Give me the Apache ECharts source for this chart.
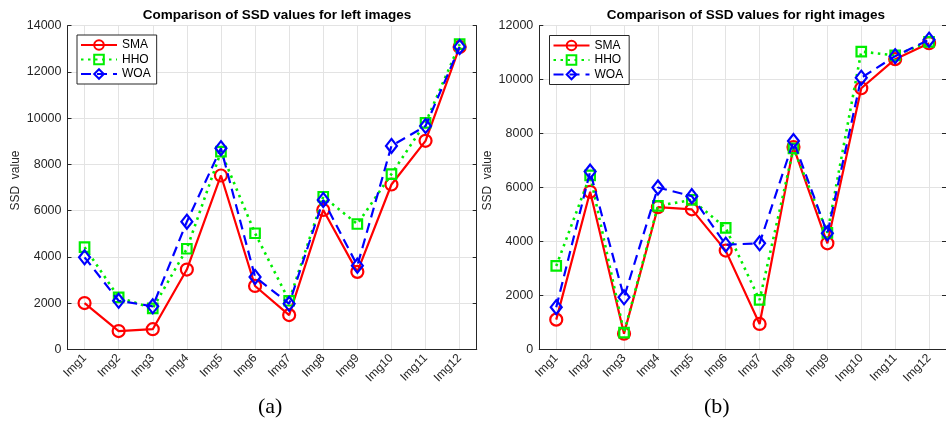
<!DOCTYPE html>
<html>
<head>
<meta charset="utf-8">
<script src="https://cdn.jsdelivr.net/npm/echarts@6/dist/echarts.min.js"></script>
<style>
html,body{margin:0;padding:0;background:#fff;}
#c{width:946px;height:424px;}
</style>
</head>
<body>
<div id="c"></div>
<script>
const categories = ['Img1','Img2','Img3','Img4','Img5','Img6','Img7','Img8','Img9','Img10','Img11','Img12'];
const seriesNames = ['SMA','HHO','WOA'];
const leftSMA = [2000, 790, 870, 3450, 7520, 2740, 1480, 6030, 3350, 7130, 9020, 13080];
const leftHHO = [4420, 2250, 1770, 4350, 8550, 5020, 2100, 6600, 5420, 7580, 9800, 13200];
const leftWOA = [3980, 2100, 1860, 5520, 8700, 3130, 1970, 6460, 3620, 8800, 9660, 13080];
const rightSMA = [1100, 5840, 580, 5270, 5190, 3660, 940, 7500, 3930, 9680, 10760, 11350];
const rightHHO = [3090, 6450, 620, 5320, 5540, 4500, 1830, 7450, 4320, 11040, 10900, 11400];
const rightWOA = [1560, 6590, 1930, 6000, 5680, 3880, 3930, 7720, 4300, 10070, 10870, 11480];
const titles = ['Comparison of SSD values for left images', 'Comparison of SSD values for right images'];
const yName = 'SSD  value';
const captions = ['(a)', '(b)'];
const yMax = [14000, 12000];
const yInterval = 2000;

const FONT = 'Liberation Sans, Arial, sans-serif';
const gridColor = '#e3e3e3';
const axisColor = '#262626';

const grids = [
  {left: 67.5, top: 25.7, width: 409.2, height: 323.6},
  {left: 539.3, top: 25.7, width: 409.2, height: 323.6}
];

const styles = {
  SMA: {color: '#ff0000', type: 'solid', width: 2.2, symbol: 'circle', size: 12},
  HHO: {color: '#00ee00', type: [2.5, 4.5], width: 2.6, symbol: 'rect', size: 9.5},
  WOA: {color: '#0000ff', type: [10, 6], width: 2.2, symbol: 'diamond', size: [11, 14]}
};

const xAxes = [], yAxes = [], series = [], titleArr = [], legends = [];
[0, 1].forEach(i => {
  xAxes.push({
    type: 'category', gridIndex: i, data: categories, boundaryGap: true,
    axisLine: {lineStyle: {color: axisColor, width: 1}},
    axisTick: {inside: true, length: 4, alignWithLabel: true, lineStyle: {color: axisColor}},
    axisLabel: {rotate: 45, fontFamily: FONT, fontSize: 12, color: axisColor, margin: 7},
    splitLine: {show: true, alignWithLabel: true, lineStyle: {color: gridColor, width: 1}}
  });
  xAxes.push({
    type: 'category', gridIndex: i, data: categories, boundaryGap: true, position: 'top',
    axisLine: {lineStyle: {color: axisColor, width: 1}},
    axisTick: {inside: true, length: 4, alignWithLabel: true, lineStyle: {color: axisColor}},
    axisLabel: {show: false}, splitLine: {show: false}
  });
  yAxes.push({
    type: 'value', gridIndex: i, min: 0, max: yMax[i], interval: yInterval,
    name: yName, nameLocation: 'middle', nameGap: 46, nameRotate: 90,
    nameTextStyle: {fontFamily: FONT, fontSize: 12, color: axisColor, padding: [0, 0, 0, 14]},
    axisLine: {show: true, lineStyle: {color: axisColor, width: 1}},
    axisTick: {show: true, inside: true, length: 4, lineStyle: {color: axisColor}},
    axisLabel: {fontFamily: FONT, fontSize: 12.5, color: axisColor, margin: 6, formatter: v => String(v)},
    splitLine: {show: true, lineStyle: {color: gridColor, width: 1}}
  });
  yAxes.push({
    type: 'value', gridIndex: i, min: 0, max: yMax[i], interval: yInterval, position: 'right',
    axisLine: {show: true, lineStyle: {color: axisColor, width: 1}},
    axisTick: {show: true, inside: true, length: 4, lineStyle: {color: axisColor}},
    axisLabel: {show: false}, splitLine: {show: false}
  });
  const data = i === 0 ? [leftSMA, leftHHO, leftWOA] : [rightSMA, rightHHO, rightWOA];
  seriesNames.forEach((n, k) => {
    const s = styles[n];
    series.push({
      name: n, type: 'line', xAxisIndex: i * 2, yAxisIndex: i * 2, data: data[k],
      symbol: s.symbol, symbolSize: s.size, showAllSymbol: true,
      lineStyle: {color: s.color, type: s.type, width: s.width},
      itemStyle: {color: 'rgba(255,255,255,0)', borderColor: s.color, borderWidth: 2.2},
      color: s.color,
      z: 3 + k, animation: false
    });
  });
  titleArr.push({
    text: titles[i], left: grids[i].left + grids[i].width / 2 - (i === 1 ? 3 : 0), top: 3, textAlign: 'center',
    textStyle: {fontFamily: FONT, fontSize: 13.5, fontWeight: 'bold', color: '#000'}
  });
  legends.push({
    data: seriesNames, orient: 'vertical',
    left: i === 0 ? 77 : 549.5, top: i === 0 ? 35 : 35.5,
    padding: [4, 6, 4, 3], itemGap: 2.5, itemWidth: 36, itemHeight: 12,
    borderColor: axisColor, borderWidth: 1, backgroundColor: '#fff',
    textStyle: {fontFamily: FONT, fontSize: 12, color: '#000'},
    selectedMode: false
  });
});

const chart = echarts.init(document.getElementById('c'), null, {renderer: 'canvas'});
chart.setOption({
  animation: false,
  backgroundColor: '#fff',
  title: titleArr,
  legend: legends,
  grid: grids,
  xAxis: xAxes,
  yAxis: yAxes,
  series: series,
  graphic: [
    {type: 'text', left: 258, top: 396, style: {text: captions[0], font: '22px "Liberation Serif", "Times New Roman", serif', fill: '#000'}},
    {type: 'text', left: 704, top: 396, style: {text: captions[1], font: '22px "Liberation Serif", "Times New Roman", serif', fill: '#000'}}
  ]
});
</script>
</body>
</html>
